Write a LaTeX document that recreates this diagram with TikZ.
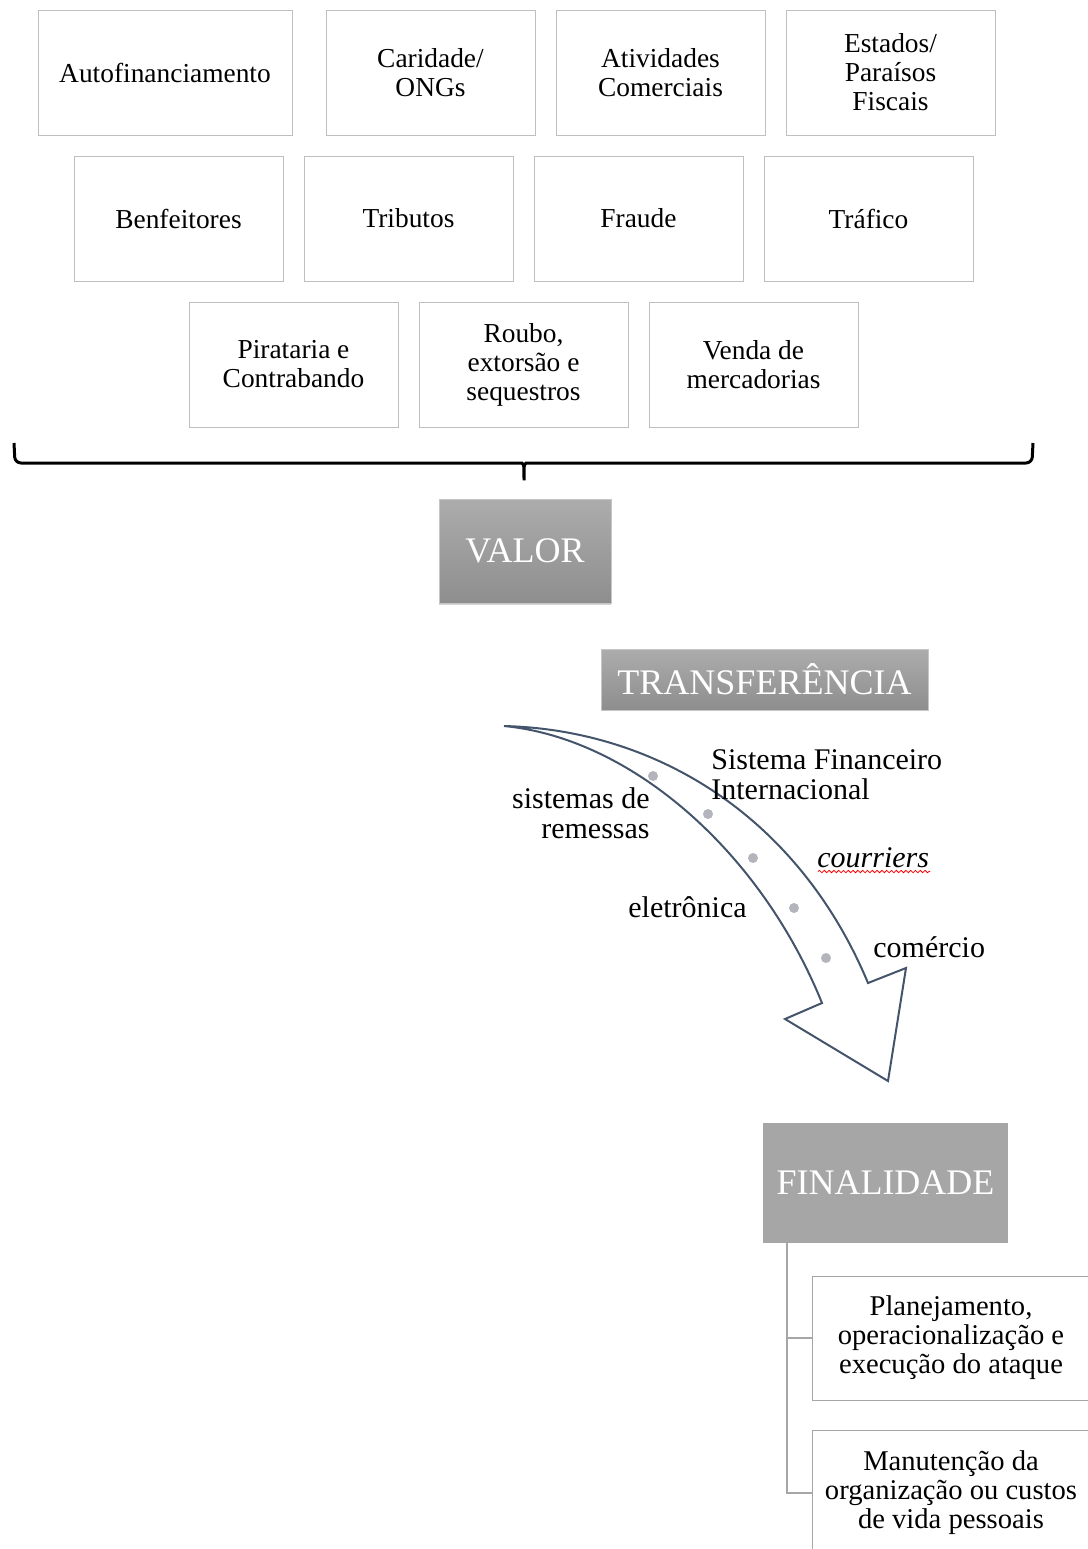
\documentclass[tikz,border=0pt]{standalone}
\usepackage{fontspec}
\setmainfont{Liberation Serif}
\usepackage{tikz}
\usetikzlibrary{positioning,shadows,decorations.pathmorphing}

\definecolor{boxline}{HTML}{BFBFBF}
\definecolor{treeline}{HTML}{A6A6A6}
\definecolor{arrowline}{HTML}{44546A}
\definecolor{dotgray}{HTML}{B4B4BC}
\definecolor{shadetop}{HTML}{ACACAC}
\definecolor{shadebot}{HTML}{8E8E8E}

\tikzset{
  srcbox/.style={draw=boxline, fill=white, minimum width=104.5pt, minimum height=62.5pt,
    align=center, font=\fontsize{13.7}{14.5}\selectfont, inner sep=2pt, outer sep=0pt},
  headbox/.style={text=white, font=\fontsize{18}{18}\selectfont, inner sep=0pt},
  shadedbox/.style={headbox, draw=gray!45, top color=shadetop, bottom color=shadebot},
  endbox/.style={draw=treeline, fill=white, minimum width=139pt, minimum height=62pt,
    align=center, font=\fontsize{14.3}{14.5}\selectfont},
  waylabel/.style={font=\fontsize{15}{15}\selectfont, inner sep=0pt},
  waydot/.style={circle, fill=dotgray, inner sep=0pt, minimum size=5pt},
}

\begin{document}
\begin{tikzpicture}[x=0.5pt, y=-0.5pt]
  \clip (0,0) rectangle (1088,1549);

  % fontes de financiamento
  \node (auto) [srcbox, minimum width=127pt] at (165,72.5) {Autofinanciamento};
  \node (carid) [srcbox] at (430.5,72.5) {Caridade/\\ONGs};
  \node (ativ) [srcbox, right=10.5pt of carid] {Atividades\\Comerciais};
  \node (estad) [srcbox, right=10.5pt of ativ] {Estados/\\Paraísos\\Fiscais};

  \node (benf) [srcbox] at (178.5,218.5) {Benfeitores};
  \node (trib) [srcbox, right=10.5pt of benf] {Tributos};
  \node (fraud) [srcbox, right=10.5pt of trib] {Fraude};
  \node (traf) [srcbox, right=10.5pt of fraud] {Tráfico};

  \node (pirat) [srcbox] at (293.5,364.5) {Pirataria e\\Contrabando};
  \node (roubo) [srcbox, right=10.5pt of pirat] {Roubo,\\extorsão e\\sequestros};
  \node (venda) [srcbox, right=10.5pt of roubo] {Venda de\\mercadorias};

  % chave
  \draw[line width=1.5pt, rounded corners=3pt] (14,443) -- (15,463) -- (516,463)
    to[out=0, in=90] (524,484) to[out=90, in=180] (532,463) -- (1032,463) -- (1033,443);

  \node (valor) [shadedbox, minimum width=86pt, minimum height=52pt,
    drop shadow={opacity=0.35, shadow xshift=0pt, shadow yshift=-1.2pt}] at (525,551) {VALOR};

  % transferencia
  \node (transf) [shadedbox, minimum width=163.5pt, minimum height=30.5pt] at (764.5,679.5) {TRANSFERÊNCIA};

  \draw[arrowline, line width=1pt, line join=miter] (504,726)
    .. controls (660,730) and (800,820) .. (868,983)
    -- (906,968) -- (888,1081) -- (785,1019) -- (822,1003)
    .. controls (760,850) and (630,738) .. (504,726) -- cycle;

  \node (d1) [waydot] at (653,776) {};
  \node (d2) [waydot] at (708,814) {};
  \node (d3) [waydot] at (753,858) {};
  \node (d4) [waydot] at (794,908) {};
  \node (d5) [waydot] at (826,958) {};

  \node (remes) [waylabel, align=right, anchor=east] at (650,813) {sistemas de\\remessas};
  \node (sfi) [waylabel, align=left, anchor=west] at (711,775) {Sistema Financeiro\\Internacional};
  \node (cour) [waylabel, anchor=west] at (817,858) {\textit{courriers}};
  \draw[red, line width=0.4pt, decorate, decoration={snake, amplitude=0.6pt, segment length=2.4pt}]
    (cour.south west) ++(1,3) -- ++(112,0);
  \node (eletr) [waylabel, anchor=west] at (628,907) {eletrônica};
  \node (comer) [waylabel, anchor=west] at (873,947) {comércio};

  % finalidade
  \node (final) [headbox, fill=treeline, minimum width=122.5pt, minimum height=60pt] at (885.5,1183) {FINALIDADE};
  \node (plan) [endbox] at (951,1338) {Planejamento,\\operacionalização e\\execução do ataque};
  \node (manut) [endbox] at (951,1492.5) {Manutenção da\\organização ou custos\\de vida pessoais};

  \coordinate (root) at (787,1243);
  \draw[treeline, line width=1pt] (root) |- (plan.west);
  \draw[treeline, line width=1pt] (root) |- (manut.west);
\end{tikzpicture}
\end{document}
